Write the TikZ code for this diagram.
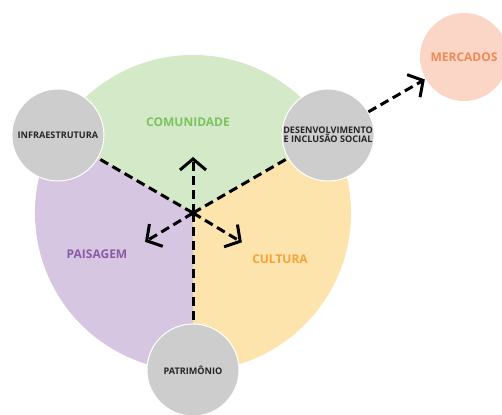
\documentclass[tikz,border=0pt]{standalone}
\usepackage{fontspec}
\setmainfont{Open Sans}
\usetikzlibrary{arrows.meta,calc}

\definecolor{comgreen}{HTML}{D3E9C7}
\definecolor{comgreentext}{HTML}{7CC35F}
\definecolor{paipurple}{HTML}{D6C6E1}
\definecolor{paipurpletext}{HTML}{8A5CA6}
\definecolor{culorange}{HTML}{FDE4AC}
\definecolor{culorangetext}{HTML}{F4A33C}
\definecolor{hubgray}{HTML}{CDCDCD}
\definecolor{mktfill}{HTML}{FBD6C6}
\definecolor{mkttext}{HTML}{EF8A55}

\tikzset{
  hub/.style={circle, fill=hubgray, draw=white, line width=1pt,
    minimum size=92pt, inner sep=0pt, align=center,
    font=\bfseries\fontsize{9.1}{10}\selectfont, text=black!85},
  market/.style={circle, fill=mktfill, minimum size=88pt, inner sep=0pt,
    font=\bfseries\fontsize{12}{14}\selectfont, text=mkttext},
  sectorlabel/.style={font=\bfseries\fontsize{12}{14}\selectfont},
  link/.style={dashed, dash pattern=on 9pt off 5pt, line width=3pt, black},
  flow/.style={link, -{Straight Barb[length=11pt, width=26pt, line width=3pt]}}
}

\begin{document}
\begin{tikzpicture}[x=1pt, y=1pt]
  \useasboundingbox (0,0) rectangle (502,414);
  \coordinate (c) at (193,201);

  % three sectors of the main circle
  \fill[comgreen] (c) -- ++(30:158) arc[start angle=30, end angle=150, radius=158] -- cycle;
  \fill[paipurple] (c) -- ++(150:158) arc[start angle=150, end angle=270, radius=158] -- cycle;
  \fill[culorange] (c) -- ++(270:158) arc[start angle=270, end angle=390, radius=158] -- cycle;

  % sector titles
  \node[sectorlabel, text=comgreentext] (comunidade) at (188,292) {COMUNIDADE};
  \node[sectorlabel, text=paipurpletext] (paisagem) at (97,160) {PAISAGEM};
  \node[sectorlabel, text=culorangetext] (cultura) at (280,155) {CULTURA};

  % hubs on the rim
  \node[hub] (infra) at ($(c)+(150:156)$) {INFRAESTRUTURA};
  \node[hub] (desenv) at ($(c)+(30:156)$) {DESENVOLVIMENTO\\[-1pt]E INCLUSÃO SOCIAL};
  \node[hub] (patrim) at ($(c)+(270:157)$) {PATRIMÔNIO};
  \node[market] (mercados) at (464,357) {MERCADOS};

  % arrow tips around the centre
  \coordinate (up) at ($(c)+(90:56)$);
  \coordinate (dl) at ($(c)+(211:56)$);
  \coordinate (dr) at ($(c)+(329:57)$);

  % dashed links
  \draw[link] (c) -- (infra);
  \draw[link] (c) -- (desenv);
  \draw[link] (c) -- (patrim);
  \draw[flow] (c) -- (up);
  \draw[flow] (c) -- (dl);
  \draw[flow] (c) -- (dr);
  \draw[flow, shorten >=1pt] (desenv) -- (mercados);
  \fill[black] (c) circle[radius=3pt];
\end{tikzpicture}
\end{document}
